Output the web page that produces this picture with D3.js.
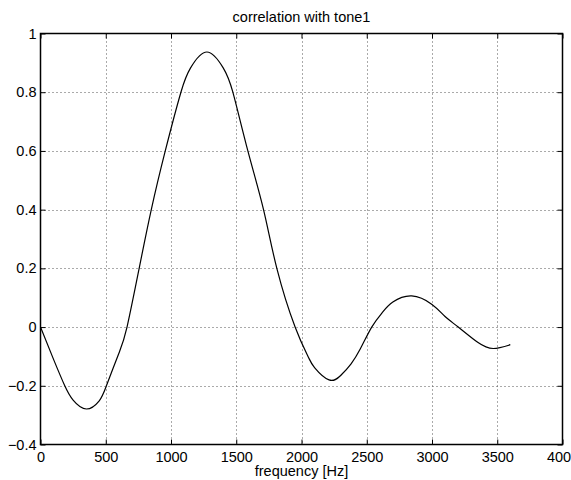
<!DOCTYPE html>
<html>
<head>
<meta charset="utf-8">
<script src="https://cdn.jsdelivr.net/npm/d3@7"></script>
<style>
  body { margin: 0; background: #fff; }
  svg { display: block; }
</style>
</head>
<body>
<div id="chart"></div>
<script>
// values
const freq = [0, 100, 186, 250, 352, 450, 505, 600, 663, 756, 849, 956, 1076, 1150, 1275, 1400, 1474, 1589, 1709, 1811, 1951, 2050, 2100, 2211, 2300, 2380, 2450, 2538, 2620, 2700, 2844, 3000, 3100, 3201, 3350, 3469, 3600];
const corr = [0, -0.11, -0.2, -0.249, -0.279, -0.251, -0.2, -0.09, 0, 0.2, 0.4, 0.6, 0.8, 0.883, 0.937, 0.883, 0.8, 0.6, 0.4, 0.2, 0, -0.1, -0.138, -0.18, -0.165, -0.125, -0.075, 0, 0.05, 0.085, 0.106, 0.077, 0.036, 0, -0.052, -0.073, -0.06];
const xTicks = [0, 500, 1000, 1500, 2000, 2500, 3000, 3500, 4000];
const yTicks = [-0.4, -0.2, 0, 0.2, 0.4, 0.6, 0.8, 1];

const width = 571;
const height = 480;
const margin = {top: 33.5, right: 8.5, bottom: 35.5, left: 40.5};
const font = "'Liberation Sans', Arial, Helvetica, sans-serif";
const fontSize = 14.5;

const x = d3.scaleLinear()
  .domain([0, 4000])
  .range([margin.left, width - margin.right]);

const y = d3.scaleLinear()
  .domain([-0.4, 1])
  .range([height - margin.bottom, margin.top]);

const svg = d3.select("#chart")
  .append("svg")
  .attr("width", width)
  .attr("height", height);

// grid
svg.append("g")
  .selectAll("line")
  .data(xTicks.slice(1, -1))
  .enter()
  .append("line")
  .attr("x1", d => Math.round(x(d)) + 0.5)
  .attr("x2", d => Math.round(x(d)) + 0.5)
  .attr("y1", y(1))
  .attr("y2", y(-0.4))
  .attr("stroke", "#555")
  .attr("stroke-dasharray", "1,3");

svg.append("g")
  .selectAll("line")
  .data(yTicks.slice(1, -1))
  .enter()
  .append("line")
  .attr("y1", d => Math.round(y(d)) + 0.5)
  .attr("y2", d => Math.round(y(d)) + 0.5)
  .attr("x1", x(0))
  .attr("x2", x(4000))
  .attr("stroke", "#555")
  .attr("stroke-dasharray", "1,3");

// axes, ticks inside on every side
const tickLen = 5;
svg.append("g")
  .attr("transform", `translate(0,${y(-0.4)})`)
  .call(d3.axisBottom(x).tickValues(xTicks).tickSizeInner(-tickLen).tickSizeOuter(0).tickPadding(7).tickFormat(d3.format("d")))
  .call(g => g.select(".domain").remove());

svg.append("g")
  .attr("transform", `translate(0,${y(1)})`)
  .call(d3.axisTop(x).tickValues(xTicks).tickSizeInner(-tickLen).tickSizeOuter(0).tickFormat(""))
  .call(g => g.select(".domain").remove());

svg.append("g")
  .attr("transform", `translate(${x(0)},0)`)
  .call(d3.axisLeft(y).tickValues(yTicks).tickSizeInner(-tickLen).tickSizeOuter(0).tickPadding(4).tickFormat(d => d3.format("")(+d.toFixed(1))))
  .call(g => g.select(".domain").remove());

svg.append("g")
  .attr("transform", `translate(${x(4000)},0)`)
  .call(d3.axisRight(y).tickValues(yTicks).tickSizeInner(-tickLen).tickSizeOuter(0).tickFormat(""))
  .call(g => g.select(".domain").remove());

svg.selectAll(".tick line").attr("stroke", "#000");
svg.selectAll(".tick text")
  .style("font-family", font)
  .style("font-size", fontSize + "px")
  .attr("fill", "#000");

// box
svg.append("rect")
  .attr("x", x(0))
  .attr("y", y(1))
  .attr("width", x(4000) - x(0))
  .attr("height", y(-0.4) - y(1))
  .attr("fill", "none")
  .attr("stroke", "#000")
  .attr("stroke-width", 1.5);

// curve
const line = d3.line()
  .x((d, i) => x(freq[i]))
  .y(d => y(d))
  .curve(d3.curveNatural);

svg.append("path")
  .datum(corr)
  .attr("d", line)
  .attr("fill", "none")
  .attr("stroke", "#000")
  .attr("stroke-width", 1.2);

// labels
svg.append("text")
  .attr("x", (x(0) + x(4000)) / 2)
  .attr("y", 22)
  .attr("text-anchor", "middle")
  .style("font-family", font)
  .style("font-size", fontSize + "px")
  .text("correlation with tone1");

svg.append("text")
  .attr("x", (x(0) + x(4000)) / 2)
  .attr("y", 476)
  .attr("text-anchor", "middle")
  .style("font-family", font)
  .style("font-size", fontSize + "px")
  .text("frequency [Hz]");
</script>
</body>
</html>
